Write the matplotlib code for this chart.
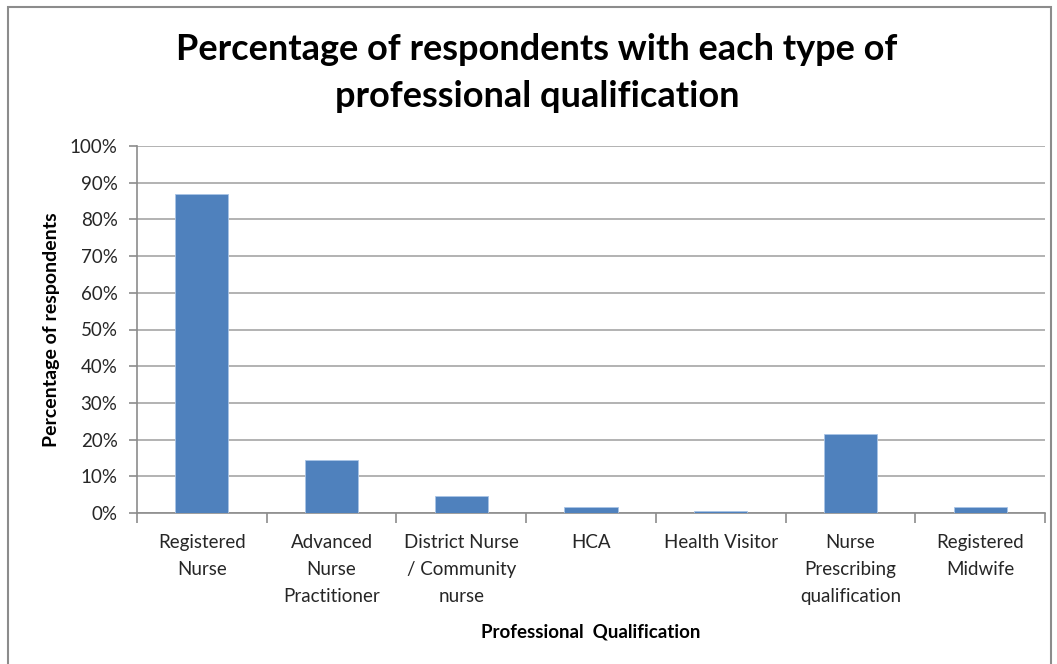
import matplotlib
matplotlib.use("Agg")
import matplotlib.pyplot as plt
from matplotlib.patches import Rectangle
from matplotlib.ticker import FuncFormatter, FixedLocator

categories = ["Registered\nNurse", "Advanced\nNurse\nPractitioner", "District Nurse\n/ Community\nnurse",
              "HCA", "Health Visitor", "Nurse\nPrescribing\nqualification", "Registered\nMidwife"]
values = [86.8, 14.5, 4.7, 1.6, 0.6, 21.6, 1.6]
yticks = [0, 10, 20, 30, 40, 50, 60, 70, 80, 90, 100]

W, H = 1057, 664
fig = plt.figure(figsize=(W / 100, H / 100), dpi=100)
plt.rcParams['font.family'] = ['Lato', 'DejaVu Sans']

# outer chart border (bottom edge lies below the image)
fig.patches.append(Rectangle((7.5 / W, -0.05), (1051 - 7.5) / W, 1.05 - 6.5 / H,
                             transform=fig.transFigure, fill=False,
                             edgecolor='#8c8c8c', linewidth=1.5, clip_on=False))

left, right, top, bottom = 137, 1045, 146, 513
ax = fig.add_axes([left / W, 1 - bottom / H, (right - left) / W, (bottom - top) / H])

x = list(range(len(categories)))
ax.bar(x, values, width=0.41, color='#4f81bd', edgecolor='#a9c4e6', linewidth=0.6, zorder=3)

ax.set_xlim(-0.5, len(categories) - 0.5)
ax.set_ylim(0, 100)
ax.set_yticks(yticks)
ax.yaxis.set_major_formatter(FuncFormatter(lambda v, p: f"{int(v)}%"))
ax.grid(axis='y', color='#a6a6a6', linewidth=1.2, zorder=0)
ax.set_axisbelow(True)

for s in ['top', 'right']:
    ax.spines[s].set_visible(False)
ax.spines['left'].set_color('#8c8c8c')
ax.spines['left'].set_linewidth(1.2)
ax.spines['bottom'].set_color('#8c8c8c')
ax.spines['bottom'].set_linewidth(1.2)

ax.set_xticks(x)
ax.set_xticklabels(categories, fontsize=13.5, color='#262626', linespacing=1.72)
ax.tick_params(axis='x', length=0, pad=15)
ax.xaxis.set_minor_locator(FixedLocator([i + 0.5 for i in range(-1, len(categories))]))
ax.tick_params(axis='x', which='minor', length=7, width=1.2, color='#8c8c8c', direction='out')
ax.tick_params(axis='y', length=6, width=1.2, color='#8c8c8c', labelsize=13.5, labelcolor='#262626', pad=8)

ax.set_xlabel("Professional  Qualification", fontsize=13.5, fontweight='bold', labelpad=13)
ax.set_ylabel("Percentage of respondents", fontsize=14, fontweight='bold', labelpad=7)

fig.text(537 / W, 1 - 73 / H, "Percentage of respondents with each type of\nprofessional qualification",
         ha='center', va='center', fontsize=26, fontweight='bold', linespacing=1.5)

fig.savefig("out.png", dpi=100)
